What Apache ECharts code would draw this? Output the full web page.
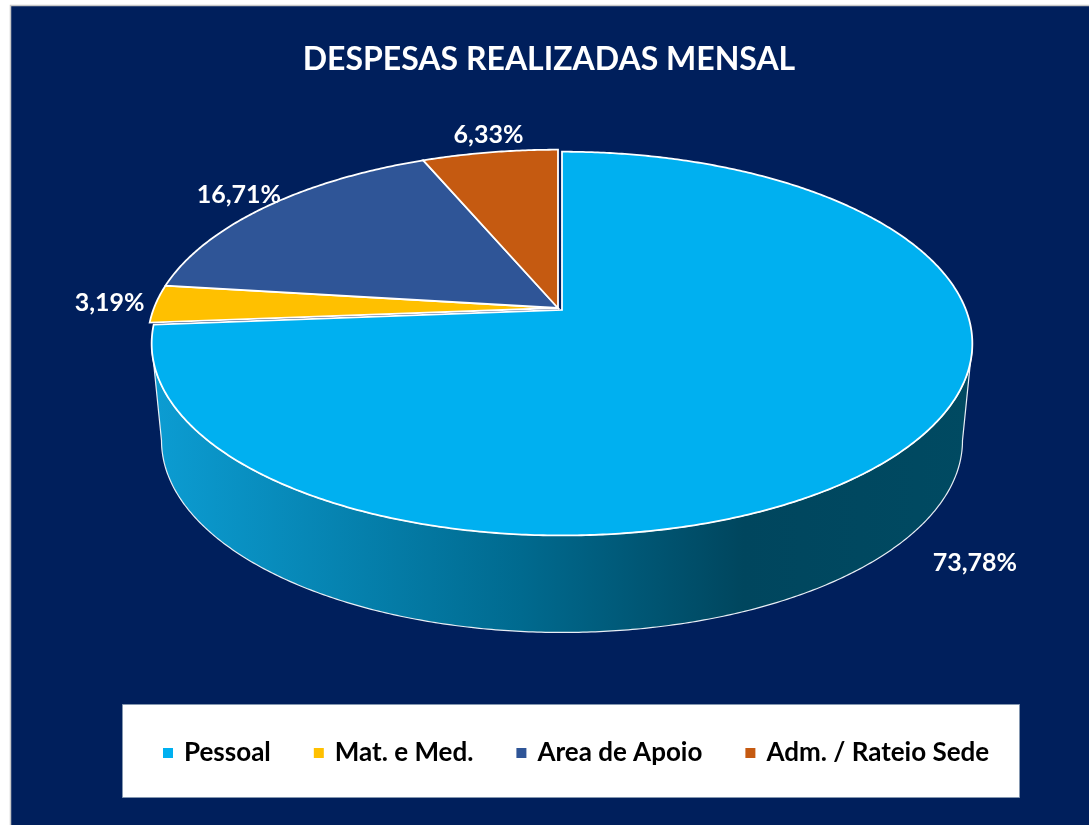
<!DOCTYPE html>
<html>
<head>
<meta charset="utf-8">
<script src="https://cdn.jsdelivr.net/npm/echarts@6/dist/echarts.min.js"></script>
<style>
  html, body { margin: 0; padding: 0; background: #fff; }
  #chart-container { width: 1089px; height: 825px; }
</style>
</head>
<body>
<div id="chart-container"></div>
<script>
// dados do gráfico
const categories = ['Pessoal', 'Mat. e Med.', 'Area de Apoio', 'Adm. / Rateio Sede'];
const values = [73.78, 3.19, 16.71, 6.33];
const colors = ['#00b0f0', '#ffc000', '#2f5597', '#c55a11'];

// geometria da pizza "3D" (perspectiva simples)
const CX = 558, CY = 308, RX = 404, RY = 186, P = 0.175, DEPTH = 97, BOTTOM_SCALE = 0.976;
const total = values.reduce((a, b) => a + b, 0);
const starts = [];
let acc = 0;
values.forEach(v => { starts.push(acc / total * Math.PI * 2); acc += v; });
const A_RIGHT = Math.acos(-P);
const A_LEFT = Math.PI * 2 - A_RIGHT;

function proj(a, r, ox, oy, sx) {
  const u = r * Math.sin(a), v = -r * Math.cos(a);
  const s = 1 / (1 - P * v);
  return [CX + ox + RX * (sx || 1) * u * s, CY + oy + RY * v * s];
}
function arc(a0, a1, ox, oy, dz, sx) {
  const pts = [];
  const n = Math.max(2, Math.ceil(Math.abs(a1 - a0) / (Math.PI / 360)));
  for (let k = 0; k <= n; k++) {
    const p = proj(a0 + (a1 - a0) * k / n, 1, ox, oy, sx);
    pts.push([p[0], p[1] + dz]);
  }
  return pts;
}
const sideGradient = new echarts.graphic.LinearGradient(150, 0, 975, 0, [
  { offset: 0, color: '#0c9dd3' },
  { offset: 0.45, color: '#006a8f' },
  { offset: 0.72, color: '#00465e' },
  { offset: 1, color: '#004a62' }
], true);

function renderSlice(i) {
  return function () {
    const a0 = starts[i];
    const a1 = a0 + values[i] / total * Math.PI * 2;
    const ox = i === 0 ? 4 : 0, oy = i === 0 ? 2 : 0;
    const children = [];
    const lo = Math.max(a0, A_RIGHT), hi = Math.min(a1, A_LEFT);
    if (lo < hi) {
      const top = arc(lo, hi, ox, oy, 0);
      const bot = arc(hi, lo, ox, oy, DEPTH, BOTTOM_SCALE);
      children.push({
        type: 'polygon',
        shape: { points: top.concat(bot) },
        style: { fill: i === 0 ? sideGradient : colors[i], stroke: '#e8eef5', lineWidth: 1.2 }
      });
    }
    const c = proj(0, 0, ox, oy);
    children.push({
      type: 'polygon',
      shape: { points: [c].concat(arc(a0, a1, ox, oy, 0)) },
      style: { fill: colors[i], stroke: '#ffffff', lineWidth: 1.8 }
    });
    const mid = (a0 + a1) / 2;
    const front = -Math.cos(mid) > 0.3;
    const lp = proj(mid, front ? 1.15 : 1.13, ox, oy);
    children.push({
      type: 'text',
      style: {
        text: values[i].toFixed(2).replace('.', ',') + '%',
        x: lp[0] + (front ? 18 : 6), y: lp[1] + (front ? DEPTH - 12 : 0),
        fill: '#ffffff', font: 'bold 25px Lato', align: 'center', verticalAlign: 'middle'
      }
    });
    return { type: 'group', children: children };
  };
}

const chart = echarts.init(document.getElementById('chart-container'));
chart.setOption({
  backgroundColor: '#ffffff',
  animation: false,
  graphic: [
    { type: 'rect', z: -10, shape: { x: 10.5, y: 5.5, width: 1090, height: 830 },
      style: { fill: '#001f5c', stroke: '#c8c8c8', lineWidth: 1.5 } },
    { type: 'rect', z: -5, shape: { x: 122.5, y: 704.5, width: 897, height: 93 },
      style: { fill: '#ffffff', stroke: '#8497b0', lineWidth: 1 } }
  ],
  title: {
    text: 'DESPESAS REALIZADAS MENSAL',
    left: 544, top: 39, textAlign: 'center',
    textStyle: { color: '#ffffff', fontSize: 32, fontWeight: 'bold', fontFamily: 'Lato' }
  },
  legend: {
    data: categories,
    left: 158, top: 735,
    icon: 'rect', itemWidth: 10, itemHeight: 10, itemGap: 43,
    textStyle: { color: '#000000', fontSize: 26, fontWeight: 'bold', fontFamily: 'Lato', padding: [0, 0, 0, 6] }
  },
  series: categories.map((name, i) => ({
    name: name,
    type: 'custom',
    coordinateSystem: 'none',
    itemStyle: { color: colors[i] },
    data: [[values[i]]],
    renderItem: renderSlice(i)
  }))
});
</script>
</body>
</html>
